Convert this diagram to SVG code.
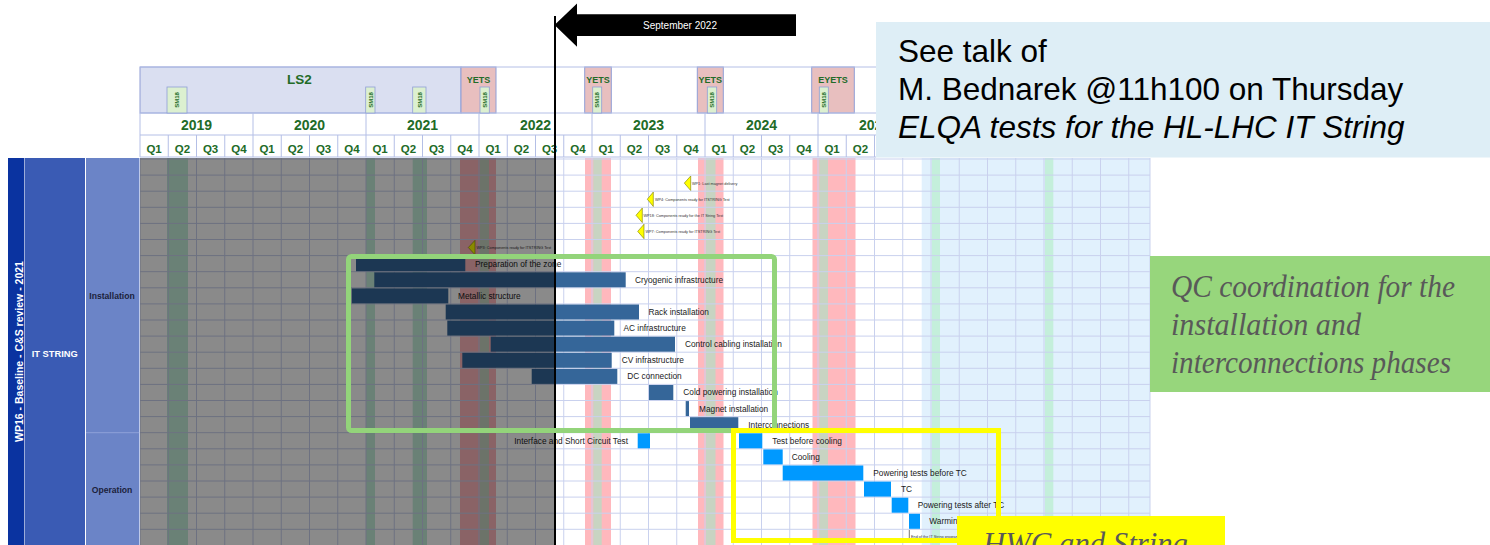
<svg xmlns="http://www.w3.org/2000/svg" width="1490" height="545" viewBox="0 0 1490 545">
<style>
.hdr{font-family:"Liberation Sans",Arial,sans-serif;font-weight:bold;fill:#226b27;text-anchor:middle}
.yr{font-size:14px}
.q{font-size:11.5px}
.band{font-size:9px}
.sm{font-size:6px}
.lbl{font-family:"Liberation Sans",Arial,sans-serif;font-size:8.3px;fill:#1a1a1a}
.ms{font-family:"Liberation Sans",Arial,sans-serif;font-size:3.8px;fill:#333}
.bi{fill:#356699}
.bo{fill:#0099ff}
.grid{stroke:#c9d1ee;stroke-width:1;fill:none}
.hline{stroke:#b4bfe6;stroke-width:1;fill:none}
.msk{fill:#ffff00;stroke:#7a7a00;stroke-width:0.6}
.side{font-family:"Liberation Sans",Arial,sans-serif;font-weight:bold;text-anchor:middle}
.note{font-family:"Liberation Sans",Arial,sans-serif;font-size:31.5px;fill:#000}
.qc{font-family:"Liberation Serif","Times New Roman",serif;font-style:italic;font-size:31px;fill:#595959}
</style>
<rect x="0" y="0" width="1490" height="545" fill="#ffffff"/>

<g id="left-columns">
<rect x="8" y="158" width="16" height="387" fill="#0a33a0"/>
<rect x="24.5" y="158" width="60.5" height="387" fill="#3a5bb4"/>
<rect x="86" y="158" width="53.5" height="387" fill="#6b84c7"/>
<line x1="86" y1="432.7" x2="139.5" y2="432.7" stroke="#8ea0d8" stroke-width="1"/>
<text class="side" transform="translate(22.5,351.5) rotate(-90)" font-size="10.5" fill="#ffffff">WP16 - Baseline - C&amp;S review - 2021</text>
<text class="side" x="54.7" y="356.5" font-size="9.3" fill="#ffffff">IT STRING</text>
<text class="side" x="112" y="299.3" font-size="8.6" fill="#1b1f3b">Installation</text>
<text class="side" x="112" y="493" font-size="8.6" fill="#1b1f3b">Operation</text>
</g>

<g id="header">
<rect x="140" y="67" width="321" height="46" fill="#dadff1" stroke="#8f9ed6" stroke-width="1"/>
<rect x="461" y="67" width="35" height="46" fill="#e8bfbf" stroke="#8f9ed6" stroke-width="1"/>
<rect x="584.7" y="67" width="26.6" height="46" fill="#e8bfbf" stroke="#8f9ed6" stroke-width="1"/>
<rect x="697.3" y="67" width="26" height="46" fill="#e8bfbf" stroke="#8f9ed6" stroke-width="1"/>
<rect x="811.7" y="67" width="42.6" height="46" fill="#e8bfbf" stroke="#8f9ed6" stroke-width="1"/>
<path class="hline" d="M140 67H876M140 113H876M140 135H876M140 157H876"/>
<path class="hline" d="M140 113V135M253 113V135M366 113V135M479 113V135M592 113V135M705 113V135M818 113V135"/>
<path class="hline" d="M140 135V157M168.25 135V157M196.5 135V157M224.75 135V157M253 135V157M281.25 135V157M309.5 135V157M337.75 135V157M366 135V157M394.25 135V157M422.5 135V157M450.75 135V157M479 135V157M507.25 135V157M535.5 135V157M563.75 135V157M592 135V157M620.25 135V157M648.5 135V157M676.75 135V157M705 135V157M733.25 135V157M761.5 135V157M789.75 135V157M818 135V157M846.25 135V157M874.5 135V157"/>
<text class="hdr" x="299.5" y="84" font-size="13.5">LS2</text>
<text class="hdr band" x="478.5" y="82.5">YETS</text>
<text class="hdr band" x="598" y="82.5">YETS</text>
<text class="hdr band" x="710.3" y="82.5">YETS</text>
<text class="hdr band" x="833" y="82.5">EYETS</text>
<g fill="#dcf0d0" stroke="#8f9ed6" stroke-width="0.8">
<rect x="167" y="87" width="20" height="26"/>
<rect x="365.7" y="87" width="9.3" height="26"/>
<rect x="412.7" y="87" width="13.3" height="26"/>
<rect x="480" y="87" width="9.3" height="26"/>
<rect x="592.7" y="87" width="9" height="26"/>
<rect x="707.3" y="87" width="9.4" height="26"/>
<rect x="819.3" y="87" width="9" height="26"/>
</g>
<text class="hdr sm" transform="translate(179.2,100) rotate(-90)">SM18</text>
<text class="hdr sm" transform="translate(372.6,100) rotate(-90)">SM18</text>
<text class="hdr sm" transform="translate(421.5,100) rotate(-90)">SM18</text>
<text class="hdr sm" transform="translate(486.9,100) rotate(-90)">SM18</text>
<text class="hdr sm" transform="translate(599.4,100) rotate(-90)">SM18</text>
<text class="hdr sm" transform="translate(714.2,100) rotate(-90)">SM18</text>
<text class="hdr sm" transform="translate(826,100) rotate(-90)">SM18</text>
<text class="hdr yr" x="196.5" y="130">2019</text>
<text class="hdr yr" x="309.5" y="130">2020</text>
<text class="hdr yr" x="422.5" y="130">2021</text>
<text class="hdr yr" x="535.5" y="130">2022</text>
<text class="hdr yr" x="648.5" y="130">2023</text>
<text class="hdr yr" x="761.5" y="130">2024</text>
<text class="hdr yr" x="874.5" y="130">2025</text>
<g class="hdr q">
<text x="154.1" y="152.5">Q1</text><text x="182.4" y="152.5">Q2</text><text x="210.6" y="152.5">Q3</text><text x="238.9" y="152.5">Q4</text>
<text x="267.1" y="152.5">Q1</text><text x="295.4" y="152.5">Q2</text><text x="323.6" y="152.5">Q3</text><text x="351.9" y="152.5">Q4</text>
<text x="380.1" y="152.5">Q1</text><text x="408.4" y="152.5">Q2</text><text x="436.6" y="152.5">Q3</text><text x="464.9" y="152.5">Q4</text>
<text x="493.1" y="152.5">Q1</text><text x="521.4" y="152.5">Q2</text><text x="549.6" y="152.5">Q3</text><text x="577.9" y="152.5">Q4</text>
<text x="606.1" y="152.5">Q1</text><text x="634.4" y="152.5">Q2</text><text x="662.6" y="152.5">Q3</text><text x="690.9" y="152.5">Q4</text>
<text x="719.1" y="152.5">Q1</text><text x="747.4" y="152.5">Q2</text><text x="775.6" y="152.5">Q3</text><text x="803.9" y="152.5">Q4</text>
<text x="832.1" y="152.5">Q1</text><text x="860.4" y="152.5">Q2</text>
</g>
</g>

<g id="gantt-body">
<rect x="921.7" y="158" width="228.3" height="387" fill="#e1f1fd"/>
<g fill="#ffb8bd">
<rect x="460" y="158" width="36" height="387"/>
<rect x="585" y="158" width="26" height="387"/>
<rect x="698" y="158" width="25.5" height="387"/>
<rect x="812.5" y="158" width="43" height="387"/>
</g>
<g fill="#c8d4c2">
<rect x="480" y="158" width="9" height="387"/>
<rect x="593.3" y="158" width="8.4" height="387"/>
<rect x="706" y="158" width="9.5" height="387"/>
<rect x="819.3" y="158" width="8.7" height="387"/>
</g>
<g fill="#c4efdb">
<rect x="167" y="158" width="21" height="387"/>
<rect x="366" y="158" width="9" height="387"/>
<rect x="412.7" y="158" width="14.3" height="387"/>
<rect x="931.7" y="158" width="8.3" height="387"/>
<rect x="1045" y="158" width="8.3" height="387"/>
</g>
<path class="grid" d="M140 158V545M168.25 158V545M196.5 158V545M224.75 158V545M253 158V545M281.25 158V545M309.5 158V545M337.75 158V545M366 158V545M394.25 158V545M422.5 158V545M450.75 158V545M479 158V545M507.25 158V545M535.5 158V545M563.75 158V545M592 158V545M620.25 158V545M648.5 158V545M676.75 158V545M705 158V545M733.25 158V545M761.5 158V545M789.75 158V545M818 158V545M846.25 158V545M874.5 158V545M902.75 158V545M931 158V545M959.25 158V545M987.5 158V545M1015.75 158V545M1044 158V545M1072.25 158V545M1100.5 158V545M1128.75 158V545M1150 158V545"/>
<path class="grid" d="M140 159H1150M140 175.1H1150M140 191.2H1150M140 207.3H1150M140 223.4H1150M140 239.5H1150M140 255.6H1150M140 271.7H1150M140 287.8H1150M140 303.9H1150M140 320H1150M140 336.1H1150M140 352.2H1150M140 368.3H1150M140 384.4H1150M140 400.5H1150M140 416.6H1150M140 432.7H1150M140 448.8H1150M140 464.9H1150M140 481H1150M140 497.1H1150M140 513.2H1150M140 529.3H1150"/>
</g>

<g id="milestones">
<polygon class="msk" points="684.3,183.1 690.7,176 690.7,190.5"/>
<text class="ms" x="692" y="184.5">WP1: Last magnet delivery</text>
<polygon class="msk" points="647.3,199.2 653.3,192 653.3,206.5"/>
<text class="ms" x="655" y="200.6">WP4: Components ready for ITSTRING Test</text>
<polygon class="msk" points="636,215.3 642.3,208 642.3,222.6"/>
<text class="ms" x="643.5" y="216.7">WP18: Components ready for the IT String Test</text>
<polygon class="msk" points="637.7,231.4 644,224.2 644,238.7"/>
<text class="ms" x="645.5" y="232.8">WP7: Components ready for ITSTRING Test</text>
<polygon class="msk" points="468.3,247.5 475,240.3 475,254.8"/>
<text class="ms" x="476.5" y="248.9">WP3: Components ready for ITSTRING Test</text>
</g>

<g id="installation-tasks">
<rect class="bi" x="356" y="256.2" width="109.3" height="15"/>
<text class="lbl" x="475" y="266.6">Preparation of the zone</text>
<rect class="bi" x="374.3" y="272.3" width="251.4" height="15"/>
<text class="lbl" x="635" y="282.7">Cryogenic infrastructure</text>
<rect class="bi" x="351.7" y="288.4" width="96.6" height="15"/>
<text class="lbl" x="458" y="298.8">Metallic structure</text>
<rect class="bi" x="445.7" y="304.5" width="193.3" height="15"/>
<text class="lbl" x="648.5" y="314.9">Rack installation</text>
<rect class="bi" x="447.3" y="320.6" width="167" height="15"/>
<text class="lbl" x="623.5" y="331">AC infrastructure</text>
<rect class="bi" x="490.7" y="336.7" width="184.3" height="15"/>
<text class="lbl" x="685" y="347.1">Control cabling installation</text>
<rect class="bi" x="462.3" y="352.8" width="149.4" height="15"/>
<text class="lbl" x="621.7" y="363.2">CV infrastructure</text>
<rect class="bi" x="531.7" y="368.9" width="85.6" height="15"/>
<text class="lbl" x="627.3" y="379.3">DC connection</text>
<rect class="bi" x="649" y="385" width="24.3" height="15"/>
<text class="lbl" x="683.3" y="395.4">Cold powering installation</text>
<rect class="bi" x="685.7" y="401.1" width="3.3" height="15"/>
<text class="lbl" x="699" y="411.5">Magnet installation</text>
<rect class="bi" x="690" y="417.2" width="48.3" height="15"/>
<text class="lbl" x="748.3" y="427.6">Interconnections</text>
</g>

<g id="operation-tasks">
<rect class="bo" x="637.7" y="433.3" width="12.3" height="15"/>
<text class="lbl" x="628" y="443.7" text-anchor="end">Interface and Short Circuit Test</text>
<rect class="bo" x="739" y="433.3" width="23.3" height="15"/>
<text class="lbl" x="772.3" y="443.7">Test before cooling</text>
<rect class="bo" x="763.3" y="449.4" width="19.4" height="15"/>
<text class="lbl" x="791.7" y="459.8">Cooling</text>
<rect class="bo" x="782.7" y="465.5" width="80.6" height="15"/>
<text class="lbl" x="873.3" y="475.9">Powering tests before TC</text>
<rect class="bo" x="864" y="481.6" width="27" height="15"/>
<text class="lbl" x="901" y="492">TC</text>
<rect class="bo" x="891.7" y="497.7" width="16.6" height="15"/>
<text class="lbl" x="917.7" y="508.1">Powering tests after TC</text>
<rect class="bo" x="909" y="513.8" width="11" height="15"/>
<text class="lbl" x="929.3" y="524.2">Warming</text>
<path d="M909.3 530V538.5" stroke="#555" stroke-width="0.8" fill="none"/>
<text class="ms" x="911" y="537.5">End of the IT String programme</text>
</g>

<rect id="past-overlay" x="140" y="158" width="415" height="387" fill="#000000" opacity="0.46"/>

<g id="connectors">
<line x1="555" y1="16" x2="555" y2="545" stroke="#000000" stroke-width="2"/>
<polygon points="554.5,25 577,3.5 577,14.3 796,14.3 796,36 577,36 577,46.7" fill="#000000"/>
<text x="680" y="29.3" font-family="Liberation Sans, Arial, sans-serif" font-size="10" fill="#ffffff" text-anchor="middle">September 2022</text>
</g>

<g id="frames">
<rect x="348.5" y="256.5" width="426" height="174" rx="3" fill="none" stroke="#93d47a" stroke-width="5"/>
<rect x="733.5" y="430.5" width="265" height="110" fill="none" stroke="#ffff00" stroke-width="5"/>
</g>

<g id="note-talk">
<rect x="876" y="22" width="614" height="135.5" fill="#deeef6"/>
<text class="note" x="898" y="61.5">See talk of</text>
<text class="note" x="898" y="100">M. Bednarek @11h100 on Thursday</text>
<text class="note" x="898" y="137.5" font-style="italic">ELQA tests for the HL-LHC IT String</text>
</g>

<g id="note-qc">
<rect x="1150" y="256" width="340" height="136" fill="#97d67c"/>
<text class="qc" x="1171" y="296.5" textLength="284" lengthAdjust="spacingAndGlyphs">QC coordination for the</text>
<text class="qc" x="1171" y="335" textLength="190" lengthAdjust="spacingAndGlyphs">installation and</text>
<text class="qc" x="1171" y="372.5" textLength="280" lengthAdjust="spacingAndGlyphs">interconnections phases</text>
</g>

<g id="note-hwc">
<rect x="957" y="516" width="268" height="29" fill="#ffff00"/>
<text class="qc" x="983" y="554" font-size="32" textLength="205" lengthAdjust="spacingAndGlyphs">HWC and String</text>
</g>
</svg>
